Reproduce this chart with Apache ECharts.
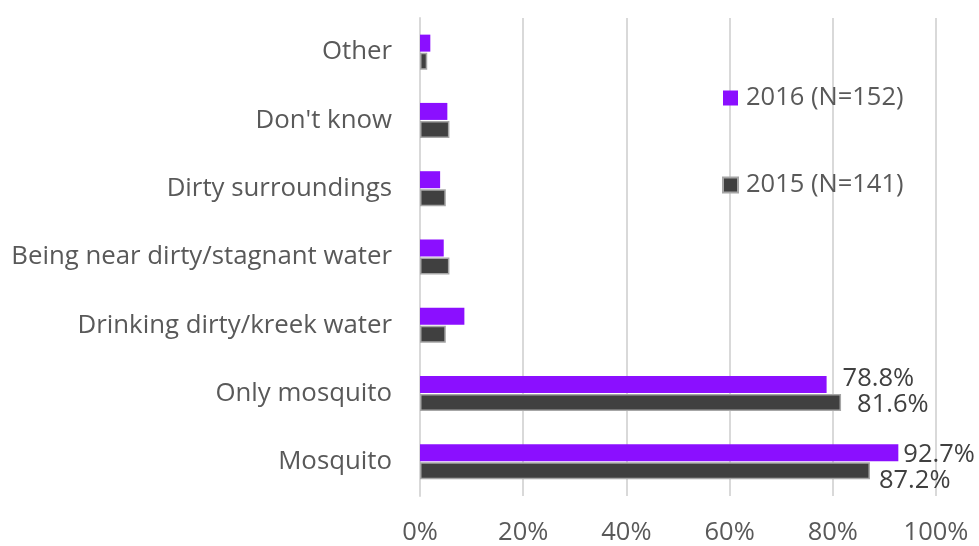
<!DOCTYPE html>
<html>
<head>
<meta charset="utf-8">
<script src="https://cdn.jsdelivr.net/npm/echarts@6/dist/echarts.min.js"></script>
<style>
  html, body { margin: 0; padding: 0; background: #ffffff; }
  #chart { width: 979px; height: 546px; }
</style>
</head>
<body>
<div id="chart"></div>
<script>
// Perceived causes, listed bottom to top
const categories = [
  'Mosquito',
  'Only mosquito',
  'Drinking dirty/kreek water',
  'Being near dirty/stagnant water',
  'Dirty surroundings',
  "Don't know",
  'Other'
];
const seriesNames = ['2016 (N=152)', '2015 (N=141)'];
const values2016 = [92.7, 78.8, 8.6, 4.6, 3.9, 5.3, 2.0];
const values2015 = [87.2, 81.6, 5.0, 5.7, 5.0, 5.7, 1.4];
// Only the two large categories carry value labels
const labelled = ['Mosquito', 'Only mosquito'];
const xTicks = [0, 20, 40, 60, 80, 100];

const FONT = '"Open Sans", sans-serif';
const FS = 25.5;
const TEXT = '#595959';

// Label offsets keep the pairs of labels from colliding
const offsets2016 = { 'Mosquito': [5, 2], 'Only mosquito': [16, -6] };
const offsets2015 = { 'Mosquito': [9, 10], 'Only mosquito': [16, 2] };

function buildData(values, offsets) {
  return values.map((v, i) => {
    const cat = categories[i];
    if (labelled.indexOf(cat) < 0) return { value: v };
    return {
      value: v,
      label: {
        show: true,
        position: 'right',
        distance: 0,
        offset: offsets[cat],
        formatter: (p) => p.value.toFixed(1) + '%',
        color: '#404040',
        fontSize: FS,
        fontFamily: FONT
      }
    };
  });
}

const chart = echarts.init(document.getElementById('chart'), null, { renderer: 'canvas' });
chart.setOption({
  animation: false,
  backgroundColor: '#ffffff',
  grid: { left: 420, right: 43, top: 18, bottom: 50, containLabel: false },
  legend: {
    orient: 'vertical',
    left: 717,
    top: 80,
    itemGap: 61,
    itemWidth: 15,
    itemHeight: 15,
    icon: 'rect',
    data: [seriesNames[0], seriesNames[1]],
    textStyle: { color: TEXT, fontSize: FS, fontFamily: FONT, padding: [0, 0, 0, 3] }
  },
  xAxis: {
    type: 'value',
    min: 0,
    max: 100,
    interval: 20,
    axisLine: { show: false },
    axisTick: { show: false },
    splitLine: { show: true, lineStyle: { color: '#d9d9d9', width: 2 } },
    axisLabel: {
      color: TEXT,
      fontSize: FS,
      fontFamily: FONT,
      margin: 24,
      formatter: (v) => (xTicks.indexOf(v) >= 0 ? v + '%' : '')
    }
  },
  yAxis: {
    type: 'category',
    data: categories,
    axisLine: { show: true, lineStyle: { color: '#d9d9d9', width: 2 } },
    axisTick: { show: false },
    axisLabel: {
      color: TEXT,
      fontSize: 25.8,
      fontFamily: FONT,
      margin: 28
    }
  },
  series: [
    {
      name: seriesNames[0],
      type: 'bar',
      data: buildData(values2016, offsets2016),
      barWidth: 17,
      barGap: '6%',
      barCategoryGap: '48%',
      itemStyle: { color: '#8b0fff' }
    },
    {
      name: seriesNames[1],
      type: 'bar',
      data: buildData(values2015, offsets2015),
      barWidth: 17,
      barGap: '6%',
      barCategoryGap: '48%',
      itemStyle: { color: '#404040', borderColor: '#a6a6a6', borderWidth: 1.5 }
    }
  ]
});
</script>
</body>
</html>
